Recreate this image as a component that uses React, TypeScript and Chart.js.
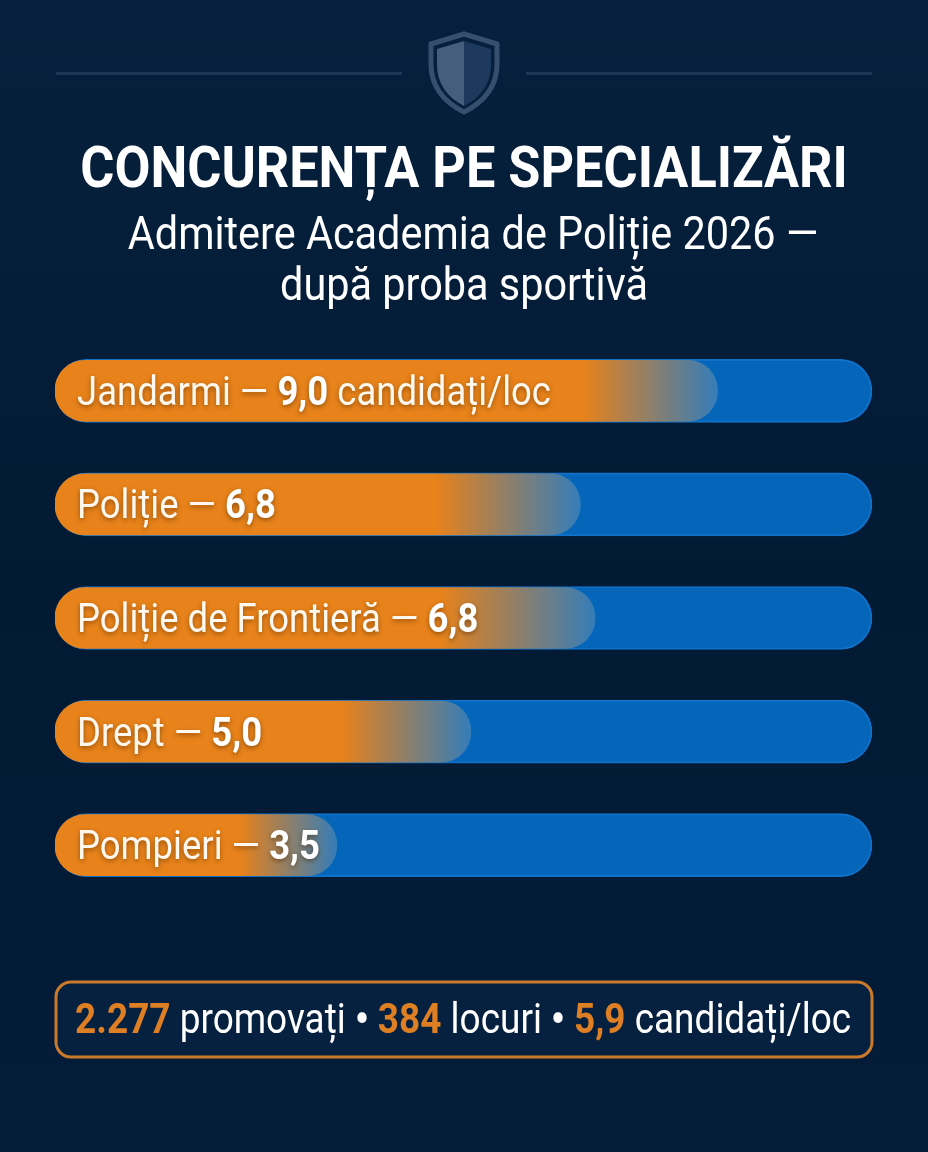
import React, { useEffect, useRef } from "react";
import { Chart, registerables } from "chart.js";

Chart.register(...registerables);

// values printed in the picture
const categories = ["Jandarmi", "Poliție", "Poliție de Frontieră", "Drept", "Pompieri"];
const rates = [9.0, 6.8, 6.8, 5.0, 3.5];
const rateSuffixes = [" candidați/loc", "", "", "", ""];
// drawn bar lengths, in percent of the track
const barFill = [81.1, 64.3, 66.1, 50.9, 34.5];
const fadeStart = [64.5, 46.5, 47.1, 35.0, 22.6];
const trackValues = [100, 100, 100, 100, 100];

const titleText = "CONCURENȚA PE SPECIALIZĂRI";
const subtitleLines = ["Admitere Academia de Poliție 2026 —", "după proba sportivă"];
const summaryValues = ["2.277", "384", "5,9"];
const summaryLabels = ["promovați", "locuri", "candidați/loc"];

const ORANGE = "#e8821a";
const FADE_END = "#357db8";
const TEXT_FAMILY = "Roboto, sans-serif";

type Run = { text: string; weight: number; color: string };

// canvas has no condensed Roboto, so squeeze the runs horizontally
function drawRuns(ctx: CanvasRenderingContext2D, runs: Run[], x: number, y: number, size: number, scaleX: number, align = "left") {
    ctx.save();
    ctx.textBaseline = "alphabetic";
    ctx.textAlign = "left";
    let total = 0;
    for (const r of runs) {
        ctx.font = `${r.weight} ${size}px ${TEXT_FAMILY}`;
        total += ctx.measureText(r.text).width;
    }
    const startX = align === "center" ? x - (total * scaleX) / 2 : x;
    ctx.translate(startX, y);
    ctx.scale(scaleX, 1);
    let cursor = 0;
    for (const r of runs) {
        ctx.font = `${r.weight} ${size}px ${TEXT_FAMILY}`;
        ctx.fillStyle = r.color;
        ctx.fillText(r.text, cursor, 0);
        cursor += ctx.measureText(r.text).width;
    }
    ctx.restore();
}

function drawShield(ctx: CanvasRenderingContext2D) {
    ctx.save();
    const outline = () => {
        ctx.beginPath();
        ctx.moveTo(464, 34);
        ctx.lineTo(497, 44);
        ctx.lineTo(497, 64);
        ctx.bezierCurveTo(497, 86, 484, 102, 464, 112);
        ctx.bezierCurveTo(444, 102, 431, 86, 431, 64);
        ctx.lineTo(431, 44);
        ctx.closePath();
    };
    outline();
    ctx.strokeStyle = "#364f6e";
    ctx.lineWidth = 5;
    ctx.lineJoin = "round";
    ctx.stroke();

    const inner = (fromX: number, toSide: number) => {
        ctx.beginPath();
        ctx.moveTo(fromX, 41);
        ctx.lineTo(toSide, 49);
        ctx.lineTo(toSide, 65);
        ctx.bezierCurveTo(toSide, 82, (toSide * 2 + fromX) / 3, 97, fromX, 106);
        ctx.closePath();
    };
    inner(464, 437);
    ctx.fillStyle = "#465e7c";
    ctx.fill();
    inner(464, 491);
    ctx.fillStyle = "#1d3a5e";
    ctx.fill();

    // divider lines either side
    ctx.fillStyle = "#1e3656";
    ctx.fillRect(56, 72, 346, 3);
    ctx.fillRect(526, 72, 346, 3);
    ctx.restore();
}

const pagePlugin = {
    id: "pageDecor",
    beforeDraw(chart: Chart) {
        const { ctx, width, height } = chart;
        const bg = ctx.createLinearGradient(0, 0, 0, height);
        bg.addColorStop(0, "#06203d");
        bg.addColorStop(0.5, "#031a34");
        bg.addColorStop(1, "#041c38");
        ctx.fillStyle = bg;
        ctx.fillRect(0, 0, width, height);

        drawShield(ctx);

        drawRuns(ctx, [{ text: titleText, weight: 700, color: "#ffffff" }], 464, 187, 58, 0.9, "center");
        drawRuns(ctx, [{ text: subtitleLines[0], weight: 400, color: "#ffffff" }], 473, 249, 46, 0.9, "center");
        drawRuns(ctx, [{ text: subtitleLines[1], weight: 400, color: "#ffffff" }], 464, 300, 46, 0.9, "center");

        // summary box
        ctx.save();
        ctx.beginPath();
        ctx.roundRect(56, 982, 816, 75, 15);
        ctx.fillStyle = "#06203f";
        ctx.fill();
        ctx.strokeStyle = "#cb7a2c";
        ctx.lineWidth = 3;
        ctx.stroke();
        ctx.restore();

        const runs: Run[] = [];
        summaryValues.forEach((v, i) => {
            runs.push({ text: v, weight: 700, color: "#dd7f22" });
            runs.push({ text: " " + summaryLabels[i], weight: 400, color: "#ffffff" });
            if (i < summaryValues.length - 1) {
                runs.push({ text: " • ", weight: 900, color: "#ffffff" });
            }
        });
        drawRuns(ctx, runs, 75, 1033, 42, 0.88);
    },
    afterDatasetsDraw(chart: Chart) {
        const { ctx } = chart;
        const yScale = chart.scales.y;
        categories.forEach((name, i) => {
            const y = yScale.getPixelForValue(i) + 14;
            ctx.save();
            ctx.shadowColor = "rgba(70,35,0,0.55)";
            ctx.shadowBlur = 5;
            ctx.shadowOffsetY = 2;
            drawRuns(
                ctx,
                [
                    { text: name + " — ", weight: 400, color: "#fff8ee" },
                    { text: rates[i].toFixed(1).replace(".", ","), weight: 700, color: "#ffffff" },
                    { text: rateSuffixes[i], weight: 400, color: "#fff8ee" },
                ],
                77,
                y,
                41,
                0.89
            );
            ctx.restore();
        });
    },
};

export default function App() {
    const canvasRef = useRef<HTMLCanvasElement | null>(null);

    useEffect(() => {
        if (!canvasRef.current) return;
        document.body.style.margin = "0";

        const chart = new Chart(canvasRef.current, {
            type: "bar",
            plugins: [pagePlugin],
            data: {
                labels: categories,
                datasets: [
                    {
                        label: "Concurență",
                        data: barFill,
                        grouped: false,
                        order: 1,
                        barThickness: 61,
                        borderRadius: 30,
                        borderSkipped: false,
                        backgroundColor: (c: any) => {
                            const x = c.chart.scales.x;
                            // not laid out yet on the first pass
                            if (!c.chart.chartArea || !x || c.dataIndex === undefined) return ORANGE;
                            const g = c.chart.ctx.createLinearGradient(
                                x.getPixelForValue(fadeStart[c.dataIndex]),
                                0,
                                x.getPixelForValue(barFill[c.dataIndex]),
                                0
                            );
                            g.addColorStop(0, ORANGE);
                            g.addColorStop(1, FADE_END);
                            return g;
                        },
                    },
                    {
                        label: "Total",
                        data: trackValues,
                        grouped: false,
                        order: 2,
                        barThickness: 63,
                        borderRadius: 32,
                        borderSkipped: false,
                        backgroundColor: "#0566b9",
                        borderColor: "#0f71c9",
                        borderWidth: 2,
                    },
                ],
            } as any,
            options: {
                indexAxis: "y",
                animation: false,
                responsive: false,
                devicePixelRatio: 1,
                events: [],
                layout: { padding: { left: 55, right: 56, top: 334, bottom: 250 } },
                plugins: {
                    legend: { display: false },
                    title: { display: false },
                    tooltip: { enabled: false },
                },
                scales: {
                    x: { display: false, min: 0, max: 100 },
                    y: { display: false },
                },
            },
        });

        return () => {
            chart.destroy();
        };
    }, []);

    return (
        <div style={{ width: 928, height: 1152, background: "#041b36" }}>
            <canvas ref={canvasRef} width={928} height={1152} style={{ display: "block" }}></canvas>
        </div>
    );
}
